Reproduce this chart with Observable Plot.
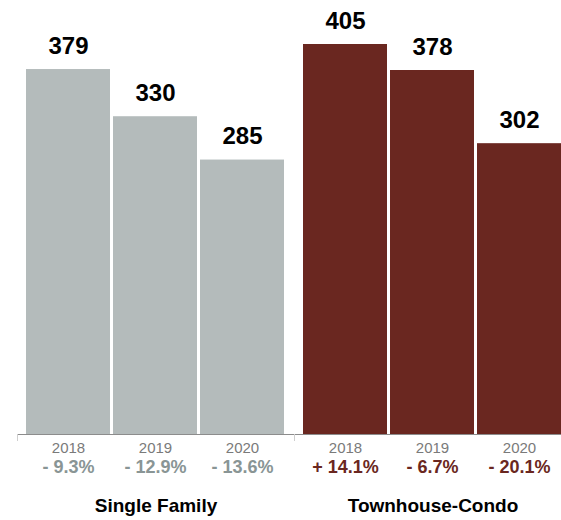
<!DOCTYPE html>
<html>
<head>
<meta charset="utf-8">
<script src="https://cdn.jsdelivr.net/npm/d3@7"></script>
<script src="https://cdn.jsdelivr.net/npm/@observablehq/plot@0.6"></script>
<style>
  html, body { margin: 0; padding: 0; background: #fff; overflow: hidden; }
  #wrap { width: 561px; height: 520px; overflow: hidden; }
</style>
</head>
<body>
<div id="wrap"></div>
<script>
// ---- data ----
const groups = ["Single Family", "Townhouse-Condo"];
const years = ["2018", "2019", "2020"];
const singleFamily = [379, 330, 285];
const townhouseCondo = [405, 378, 302];
const singleFamilyChange = ["- 9.3%", "- 12.9%", "- 13.6%"];
const townhouseCondoChange = ["+ 14.1%", "- 6.7%", "- 20.1%"];

// ---- styles ----
const barColor = {"Single Family": "#b4bbbb", "Townhouse-Condo": "#6a2720"};
const changeColor = {"Single Family": "#899595", "Townhouse-Condo": "#6a2720"};
const FONT = "'Liberation Sans', Arial, Helvetica, sans-serif";

const rows = [];
years.forEach((yr, i) => {
  rows.push({group: groups[0], year: yr, value: singleFamily[i], change: singleFamilyChange[i]});
  rows.push({group: groups[1], year: yr, value: townhouseCondo[i], change: townhouseCondoChange[i]});
});

const plot = Plot.plot({
  width: 571,
  height: 520,
  marginLeft: 17,
  marginRight: 0,
  marginTop: 44,
  marginBottom: 86,
  style: {fontFamily: FONT, background: "#fff", overflow: "visible", maxWidth: "none"},
  fx: {domain: groups, padding: 0},
  x: {domain: years, paddingInner: 0.034, paddingOuter: 0.091},
  y: {domain: [0, 405], axis: null},
  marks: [
    Plot.barY(rows, {fx: "group", x: "year", y: "value", fill: d => barColor[d.group]}),
    Plot.ruleY([0], {stroke: "#8c8c8c", strokeWidth: 1}),
    Plot.text(rows, {
      fx: "group", x: "year", y: "value", text: d => String(d.value),
      lineAnchor: "bottom", dy: -16, fontSize: 24, fontWeight: "bold", fill: "#000"
    }),
    Plot.text(rows, {
      fx: "group", x: "year", y: () => 0, text: "change",
      lineAnchor: "top", dy: 26, fontSize: 18, fontWeight: "bold", fill: d => changeColor[d.group]
    }),
    Plot.axisX({anchor: "bottom", tickSize: 0, tickPadding: 8, fontSize: 15, fill: "#7a7a7a", label: null}),
    Plot.axisFx({anchor: "bottom", tickSize: 0, tickPadding: 64, fontSize: 19, fontWeight: "bold", fill: "#000", label: null})
  ]
});

plot.style.maxWidth = "none";
document.getElementById("wrap").appendChild(plot);

// small boundary ticks between facets, placed via the plot's own scales
const fx = plot.scale("fx");
const ys = plot.scale("y");
const y0 = ys.apply(0);
const edges = groups.map(g => fx.apply(g)).concat([fx.apply(groups[groups.length - 1]) + fx.bandwidth]);
d3.select(plot).append("g")
  .attr("stroke", "#cfcfcf")
  .selectAll("line")
  .data(edges)
  .join("line")
  .attr("x1", d => Math.round(d) + 0.5)
  .attr("x2", d => Math.round(d) + 0.5)
  .attr("y1", y0)
  .attr("y2", y0 + 7);
</script>
</body>
</html>
